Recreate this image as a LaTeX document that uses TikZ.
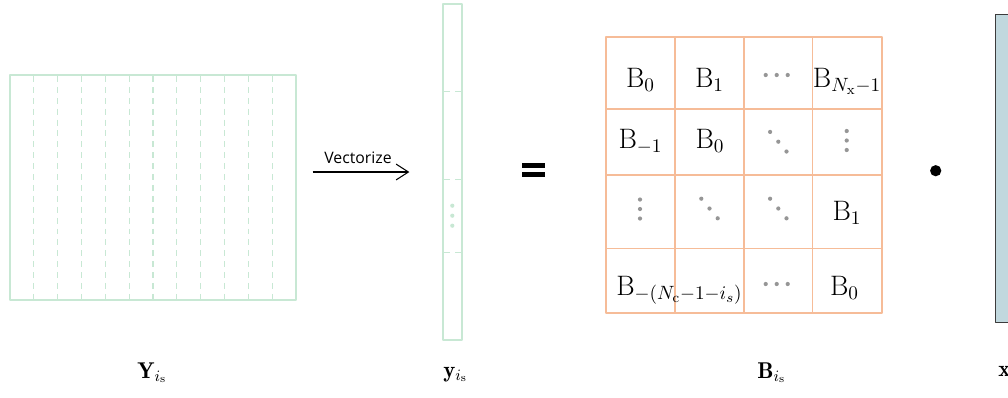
\documentclass[tikz,border=0pt]{standalone}
\usepackage{fontspec}
\newfontfamily\vecfont{Open Sans}
\usetikzlibrary{arrows.meta}
\definecolor{matgreen}{RGB}{200,232,212}
\definecolor{blkorange}{RGB}{246,188,152}
\definecolor{dotgray}{RGB}{150,150,150}
\definecolor{vecblue}{RGB}{193,216,222}
\definecolor{vecedge}{RGB}{60,60,60}

\begin{document}
\begin{tikzpicture}[x=0.02cm, y=-0.02cm, line join=round, >={Straight Barb[length=7pt,width=9pt]},
  greenbox/.style={draw=matgreen, line width=1.1pt, inner sep=0pt},
  colsep/.style={draw=matgreen, line width=0.6pt, dash pattern=on 3.4pt off 2.8pt},
  blk/.style={font=\fontsize{16}{19}\selectfont, inner sep=0pt, anchor=base},
  lbl/.style={font=\fontsize{13}{16}\selectfont, inner sep=0pt, anchor=base west},
  gdot/.style={fill=dotgray}]
\clip (0,0) rectangle (1008,397);

% Ma tran Y
\node[greenbox, minimum width=5.72cm, minimum height=4.5cm] (Ymat) at (153,187.5) {};
\foreach \i in {1,...,11}
  \draw[colsep] (10+\i*23.83,76) -- (10+\i*23.83,299);

% Vector y
\node[greenbox, line width=1pt, minimum width=0.368cm, minimum height=6.72cm] (yvec) at (452.5,172) {};
\foreach \r in {91.7,179.3,252.3}
  \draw[draw=matgreen, line width=0.6pt, dash pattern=on 4pt off 2.8pt] (443.3,\r) -- (461.7,\r);
\foreach \d in {-10,0,10}
  \fill[matgreen] (452.3,215.7+\d) circle (1.2pt);

% Mui ten
\node[font=\vecfont\fontsize{9}{11}\selectfont, inner sep=0pt, anchor=base] (vlabel) at (358,163) {Vectorize};
\draw[->, line width=0.6pt, shorten <=8.9pt, shorten >=18.8pt] (Ymat.east |- yvec.west) -- (yvec.west);

% Dau bang
\fill (522,163.3) rectangle (545,168.3);
\fill (522,172.3) rectangle (545,177.3);

% Ma tran B
\node[draw=blkorange, line width=1pt, inner sep=0pt, minimum width=5.514cm, minimum height=5.52cm] (Bmat) at (743.85,175.3) {};
\foreach \c in {675,744,812.3}
  \draw[blkorange, line width=0.8pt] (\c,37.3) -- (\c,313.3);
\foreach \r in {109,175,248.3}
  \draw[blkorange, line width=0.8pt] (606,\r) -- (881.7,\r);

\node[blk] (b00) at (640.5,87) {$\mathrm{B}_0$};
\node[blk] (b01) at (709.5,87) {$\mathrm{B}_1$};
\node[blk] (b03) at (847,87) {$\mathrm{B}_{N_\mathrm{x}-1}$};
\node[blk] (b10) at (640.5,148) {$\mathrm{B}_{-1}$};
\node[blk] (b11) at (710,148) {$\mathrm{B}_0$};
\node[blk] (b23) at (847,220) {$\mathrm{B}_1$};
\node[blk, anchor=base west] (b30) at (616,295) {$\mathrm{B}_{-(N_\mathrm{c}-1-i_s)}$};
\node[blk] (b33) at (844.5,295) {$\mathrm{B}_0$};

% Cac dau cham
\foreach \cx/\cy in {776.7/75, 776.7/284}
  \foreach \d in {-11,0,11}
    \fill[gdot] (\cx+\d,\cy) circle (1.2pt);
\foreach \cx/\cy in {846.7/140.5, 640/209}
  \foreach \d in {-9.5,0,9.5}
    \fill[gdot] (\cx,\cy+\d) circle (1.2pt);
\foreach \cx/\cy in {778.3/141.7, 709.5/208.5, 778.3/208.5}
  \foreach \d in {-1,0,1}
    \fill[gdot] (\cx+8.2*\d,\cy+9.8*\d) circle (1.2pt);

% Tich va vector x
\fill (935.7,170.7) circle (3.2pt);
\draw[vecedge, fill=vecblue, line width=0.7pt] (995.7,14.3) rectangle (1040,322.3);

% Nhan
\node[lbl] (lY) at (137,378) {$\mathbf{Y}_{i_\mathrm{s}}$};
\node[lbl] (ly) at (443,377) {$\mathbf{y}_{i_\mathrm{s}}$};
\node[lbl] (lB) at (757,378) {$\mathbf{B}_{i_\mathrm{s}}$};
\node[lbl] (lx) at (998,376) {$\mathbf{x}$};
\end{tikzpicture}
\end{document}
